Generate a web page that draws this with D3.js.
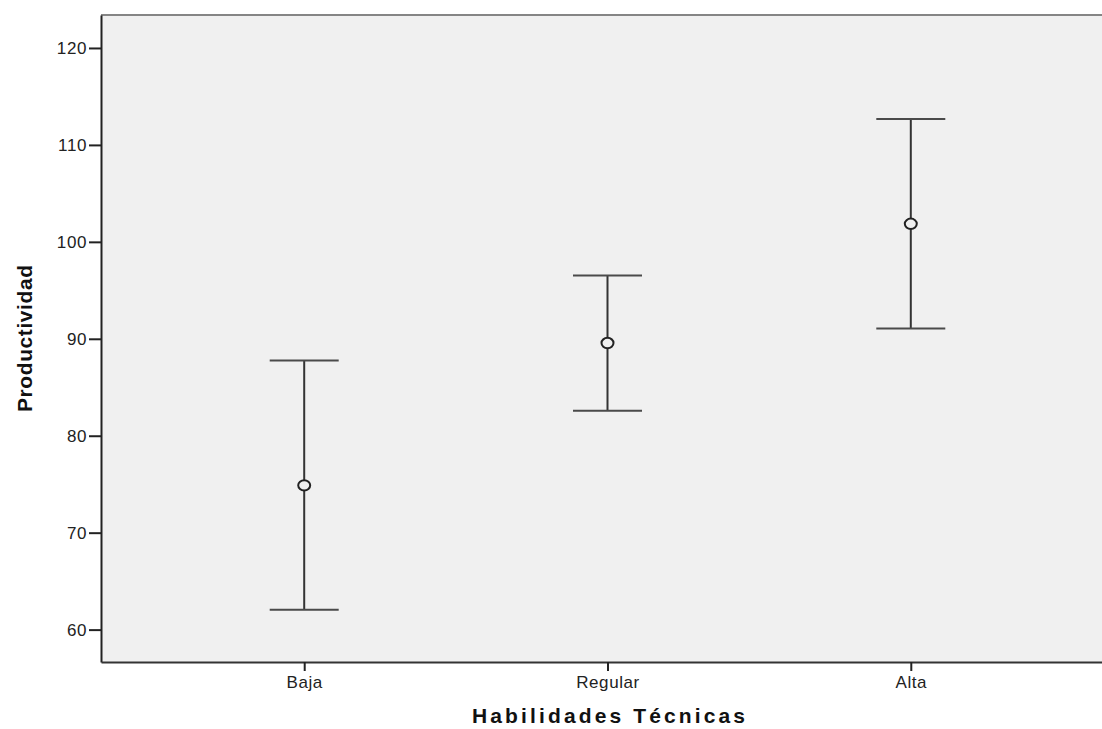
<!DOCTYPE html>
<html>
<head>
<meta charset="utf-8">
<script src="https://cdn.jsdelivr.net/npm/d3@7"></script>
<style>
html,body{margin:0;padding:0;background:#fff;}
svg{display:block;}
text{font-family:"Liberation Sans",Arial,sans-serif;}
</style>
</head>
<body>
<svg id="chart" width="1102" height="729"></svg>
<script>
const categories = ["Baja", "Regular", "Alta"];
const means = [74.88, 89.56, 101.86];
const lower = [62.06, 82.58, 91.06];
const upper = [87.76, 96.53, 112.68];
const yTicks = [60, 70, 80, 90, 100, 110, 120];

const svg = d3.select("#chart");
const pLeft = 101, pTop = 15, pBottom = 662, pRight = 1114;

const x = d3.scalePoint().domain(categories).range([pLeft, pRight]).padding(0.67);
const y = d3.scaleLinear().domain([56.66, 123.4]).range([pBottom, pTop]);

// background
svg.append("rect").attr("x", pLeft).attr("y", pTop).attr("width", pRight - pLeft).attr("height", pBottom - pTop).attr("fill", "#f0f0f0");
// top border
svg.append("line").attr("x1", pLeft).attr("x2", pRight).attr("y1", pTop).attr("y2", pTop).attr("stroke", "#858585").attr("stroke-width", 2);

// y axis
const yAxis = svg.append("g").attr("transform", `translate(${pLeft},0)`)
  .call(d3.axisLeft(y).tickValues(yTicks).tickSize(12).tickPadding(2).tickSizeOuter(0));
yAxis.select(".domain").attr("stroke", "#222").attr("stroke-width", 2);
yAxis.selectAll(".tick line").attr("stroke", "#222").attr("stroke-width", 2);
yAxis.selectAll(".tick text").attr("font-size", 17).attr("letter-spacing", 0.6).attr("fill", "#222");

// x axis
const xAxis = svg.append("g").attr("transform", `translate(0,${pBottom})`)
  .call(d3.axisBottom(x).tickSize(9).tickPadding(5).tickSizeOuter(0));
xAxis.select(".domain").attr("stroke", "#333").attr("stroke-width", 2);
xAxis.selectAll(".tick line").attr("stroke", "#222").attr("stroke-width", 2);
xAxis.selectAll(".tick text").attr("font-size", 17).attr("letter-spacing", 0.6).attr("fill", "#222");

// error bars
const g = svg.append("g");
const cap = 34.5;
categories.forEach((c, i) => {
  const cx = x(c);
  g.append("line").attr("x1", cx).attr("x2", cx).attr("y1", y(upper[i])).attr("y2", y(lower[i]))
    .attr("stroke", "#333").attr("stroke-width", 2);
  g.append("line").attr("x1", cx - cap).attr("x2", cx + cap).attr("y1", y(upper[i])).attr("y2", y(upper[i]))
    .attr("stroke", "#4a4a4a").attr("stroke-width", 2);
  g.append("line").attr("x1", cx - cap).attr("x2", cx + cap).attr("y1", y(lower[i])).attr("y2", y(lower[i]))
    .attr("stroke", "#4a4a4a").attr("stroke-width", 2);
  g.append("ellipse").attr("cx", cx).attr("cy", y(means[i])).attr("rx", 6).attr("ry", 5.2)
    .attr("fill", "#f0f0f0").attr("stroke", "#222").attr("stroke-width", 2);
});

// axis titles
svg.append("text").attr("x", 608.5).attr("y", 723).attr("text-anchor", "middle")
  .attr("font-size", 21).attr("font-weight", "bold").attr("fill", "#111")
  .attr("textLength", 273).attr("lengthAdjust", "spacing")
  .text("Habilidades Técnicas");
svg.append("text").attr("transform", "translate(32,338.5) rotate(-90)").attr("text-anchor", "middle")
  .attr("font-size", 21).attr("font-weight", "bold").attr("fill", "#111")
  .attr("textLength", 147).attr("lengthAdjust", "spacing")
  .text("Productividad");
</script>
</body>
</html>
